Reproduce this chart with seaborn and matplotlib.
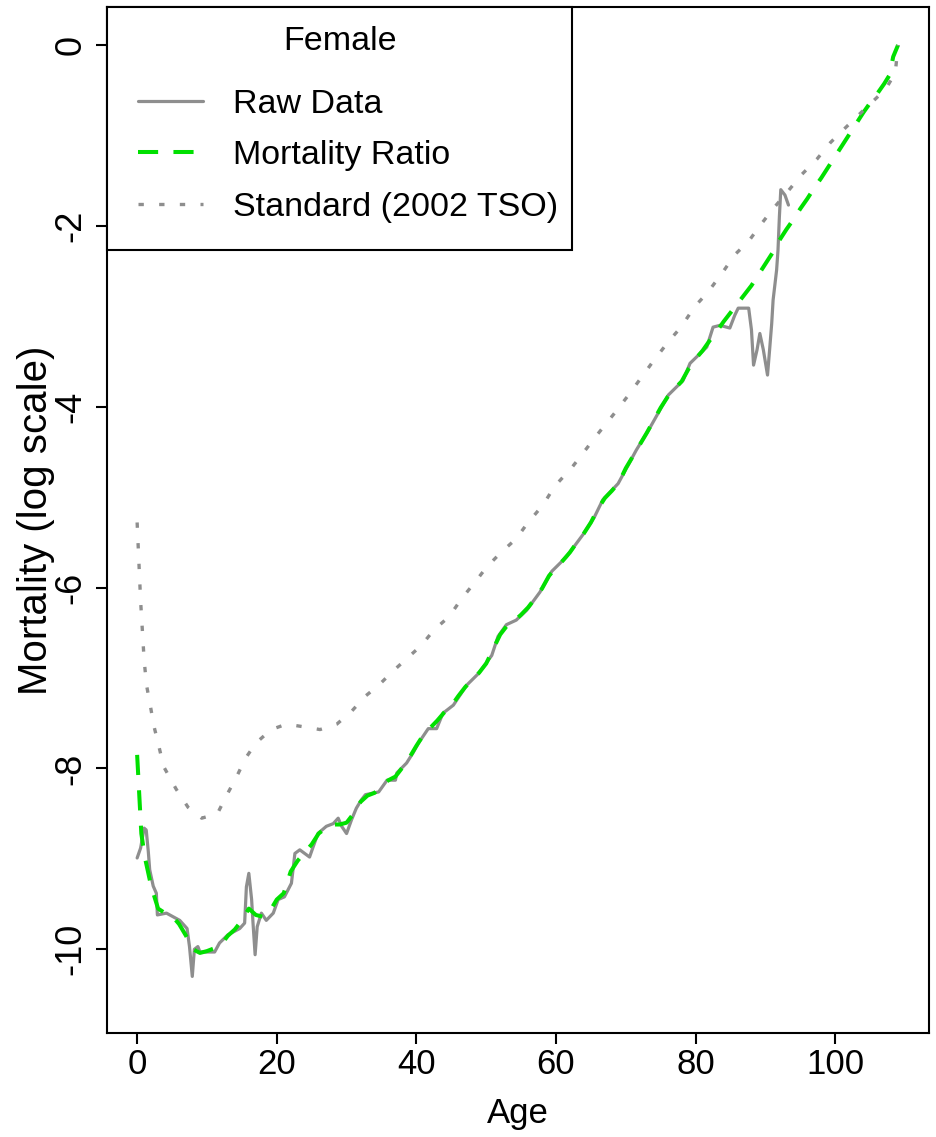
import numpy as np
import pandas as pd
import matplotlib
matplotlib.use("Agg")
import matplotlib.pyplot as plt
import seaborn as sns
from matplotlib import font_manager
from matplotlib.patches import Rectangle

# ---------------- data ----------------
raw_age = [0, 0.5, 1.0, 1.3, 1.6, 1.8, 2.3, 2.75, 2.9, 4.2, 6.1, 7.15, 7.5, 7.9, 8.2,
           8.7, 9.0, 11.1, 11.8, 13.0, 14.7, 15.4, 15.65, 16.0, 16.4, 16.6, 16.9, 17.2,
           17.8, 18.5, 19.5, 20.2, 21.1, 22.1, 22.6, 23.3, 24.0, 24.7, 25.2, 25.9, 27.1,
           28.1, 28.8, 29.3, 30.0, 30.7, 31.4, 32.1, 32.7, 34.6, 35.8, 37.0, 37.2, 38.6,
           39.5, 40.3, 41.7, 42.9, 43.8, 45.3, 47.2, 48.9, 50.8, 51.7, 52.9, 54.3, 55.8,
           57.7, 59.4, 61.5, 64.0, 65.5, 66.7, 68.9, 71.5, 73.4, 76.1, 78.2, 79.2, 81.6,
           82.5, 83.5, 84.9, 85.6, 86.1, 87.6, 88.0, 88.3, 88.8, 89.2, 89.7, 90.3, 90.6,
           90.9, 91.1, 91.6, 91.8, 92.0, 92.2, 92.8, 93.3]
raw_val = [-8.99, -8.88, -8.66, -8.68, -8.92, -9.12, -9.30, -9.38, -9.62, -9.60, -9.68,
           -9.77, -9.97, -10.30, -10.00, -9.97, -10.03, -10.03, -9.93, -9.84, -9.77, -9.71,
           -9.31, -9.16, -9.45, -9.71, -10.06, -9.75, -9.60, -9.68, -9.60, -9.45, -9.42,
           -9.27, -8.94, -8.90, -8.94, -8.98, -8.87, -8.72, -8.64, -8.61, -8.55, -8.64,
           -8.72, -8.57, -8.44, -8.35, -8.29, -8.26, -8.13, -8.13, -8.05, -7.94, -7.83,
           -7.72, -7.56, -7.56, -7.39, -7.30, -7.08, -6.95, -6.75, -6.54, -6.41, -6.36,
           -6.25, -6.05, -5.82, -5.66, -5.40, -5.22, -5.03, -4.85, -4.48, -4.24, -3.87,
           -3.71, -3.52, -3.34, -3.12, -3.10, -3.13, -2.99, -2.91, -2.91, -3.15, -3.54,
           -3.37, -3.19, -3.37, -3.65, -3.37, -3.08, -2.82, -2.49, -2.27, -1.90, -1.60,
           -1.66, -1.77]

ratio_age = [0, 0.6, 1.1, 2, 3, 4, 5, 6, 7, 8, 9, 10, 11, 12, 13, 14, 15, 16, 17, 18, 19,
             20, 21, 22, 23, 24, 25, 26, 27, 28, 29, 30, 31, 32, 33, 34, 35, 36, 37, 38,
             39, 40, 41, 42, 43, 44, 45, 46, 47, 48, 49, 50, 51, 52, 53, 54, 55, 56, 57,
             58, 59, 60, 61, 62, 63, 64, 65, 66, 67, 68, 69, 70, 71, 72, 73, 74, 75, 76,
             77, 78, 79, 80, 81, 82, 83, 84, 85, 86, 87, 88, 89, 90, 91, 92, 93, 94, 95,
             96, 97, 98, 99, 100, 101, 102, 103, 104, 105, 106, 107, 107.8, 108.3, 109]
ratio_val = [-7.85, -8.72, -8.98, -9.30, -9.55, -9.60, -9.63, -9.72, -9.85, -10.00, -10.04,
             -10.02, -9.99, -9.95, -9.85, -9.78, -9.68, -9.55, -9.62, -9.64, -9.58, -9.45,
             -9.38, -9.14, -9.02, -8.93, -8.84, -8.72, -8.66, -8.62, -8.62, -8.60, -8.50,
             -8.37, -8.30, -8.27, -8.20, -8.13, -8.09, -7.99, -7.88, -7.75, -7.63, -7.55,
             -7.47, -7.38, -7.31, -7.20, -7.10, -7.02, -6.94, -6.84, -6.68, -6.52, -6.42,
             -6.37, -6.30, -6.22, -6.12, -6.01, -5.87, -5.78, -5.70, -5.61, -5.50, -5.40,
             -5.28, -5.13, -5.01, -4.93, -4.84, -4.68, -4.55, -4.42, -4.29, -4.15, -4.01,
             -3.89, -3.80, -3.72, -3.58, -3.47, -3.38, -3.27, -3.17, -3.06, -2.96, -2.86,
             -2.76, -2.66, -2.54, -2.42, -2.30, -2.16, -2.04, -1.93, -1.81, -1.70, -1.58,
             -1.47, -1.35, -1.23, -1.11, -0.99, -0.87, -0.75, -0.64, -0.54, -0.43, -0.33,
             -0.13, 0.0]

std_age = [0, 0.5, 1.0, 1.35, 1.9, 2.4, 3.1, 3.8, 5.6, 7.3, 9.25, 11.5, 12.8, 14.2, 15.5,
           17.0, 19.2, 21.4, 23.9, 26.2, 28.6, 30.7, 32.7, 34.6, 36.7, 38.7, 40.7, 42.5,
           44.7, 46.5, 48.4, 50.0, 52.0, 54.3, 55.8, 58.2, 59.8, 62.3, 64.1, 66.0, 68.4,
           70.3, 72.1, 73.8, 76.0, 77.9, 79.9, 81.8, 84.0, 85.6, 87.6, 89.2, 91.0, 93.2,
           95.1, 97.4, 99.3, 101.4, 103.4, 105.3, 107.2, 108.6, 109]
std_val = [-5.28, -6.15, -6.80, -7.08, -7.31, -7.53, -7.75, -7.98, -8.23, -8.43, -8.55,
           -8.50, -8.30, -8.10, -7.89, -7.72, -7.57, -7.51, -7.54, -7.57, -7.51, -7.37,
           -7.20, -7.08, -6.92, -6.78, -6.64, -6.47, -6.32, -6.12, -5.94, -5.78, -5.62,
           -5.46, -5.30, -5.08, -4.88, -4.67, -4.49, -4.30, -4.07, -3.88, -3.69, -3.51,
           -3.29, -3.12, -2.89, -2.73, -2.50, -2.32, -2.17, -2.00, -1.82, -1.62, -1.44,
           -1.26, -1.08, -0.92, -0.77, -0.63, -0.49, -0.31, 0.0]

x_ticks = [0, 20, 40, 60, 80, 100]
y_ticks = [0, -2, -4, -6, -8, -10]
legend_title = "Female"
series_labels = ["Raw Data", "Mortality Ratio", "Standard (2002 TSO)"]
x_label = "Age"
y_label = "Mortality (log scale)"

# ---------------- style ----------------
sns.set_theme(style="white")
names = {f.name for f in font_manager.fontManager.ttflist}
NARROW = "Liberation Sans Narrow" if "Liberation Sans Narrow" in names else "Liberation Sans"
REG = "Liberation Sans"
plt.rcParams['font.family'] = [REG, 'DejaVu Sans']
for k in ["text.color", "axes.labelcolor", "xtick.color", "ytick.color"]:
    plt.rcParams[k] = "black"
hsize = 29 if NARROW == "Liberation Sans Narrow" else 25
lsize = 29 if NARROW == "Liberation Sans Narrow" else 24.5

GRAY = "#8e8e8e"
GREEN = "#00e000"

W, H = 936, 1137
fig = plt.figure(figsize=(W / 100, H / 100), dpi=100)
L, R, T, B = 106.7, 928.5, 6.7, 1033.0
ax = fig.add_axes([L / W, 1 - B / H, (R - L) / W, (B - T) / H])

raw_df = pd.DataFrame({"age": raw_age, "val": raw_val})
ratio_df = pd.DataFrame({"age": ratio_age, "val": ratio_val})
std_df = pd.DataFrame({"age": std_age, "val": std_val})

sns.lineplot(data=raw_df, x="age", y="val", ax=ax, color=GRAY, lw=2.3,
             label=series_labels[0], sort=False, estimator=None, zorder=2)
sns.lineplot(data=ratio_df, x="age", y="val", ax=ax, color=GREEN, lw=2.9,
             linestyle=(0, (5, 3.8)), label=series_labels[1], sort=False,
             estimator=None, zorder=3)
sns.lineplot(data=std_df, x="age", y="val", ax=ax, color=GRAY, lw=2.4,
             linestyle=(0, (1.6, 4.6)), label=series_labels[2], sort=False,
             estimator=None, zorder=4)

ax.set_xlim(-4.36, 113.36)
ax.set_ylim((45 - B) / 90.43, (45 - T) / 90.43)

for s in ax.spines.values():
    s.set_visible(True)
    s.set_color("black")
    s.set_linewidth(1.5)

ax.set_xticks(x_ticks)
ax.set_xticklabels([str(v) for v in x_ticks], fontsize=hsize, family=NARROW)
ax.set_yticks(y_ticks)
ax.set_yticklabels([str(v) for v in y_ticks], fontsize=26, family=REG,
                   rotation=90, va="center")
ax.tick_params(axis="both", direction="out", length=8, width=1.5, colors="black",
               bottom=True, left=True, top=False, right=False)
ax.tick_params(axis="x", pad=3)
ax.tick_params(axis="y", pad=5)

ax.set_xlabel(x_label, fontsize=hsize, family=NARROW, labelpad=11)
ax.set_ylabel(y_label, fontsize=29, family=REG, labelpad=-1)

# legend
handles, labs = ax.get_legend_handles_labels()
if ax.get_legend() is not None:
    ax.get_legend().remove()

frame = Rectangle((L / W, 1 - 250 / H), (572 - L) / W, (250 - T) / H,
                  transform=fig.transFigure, facecolor="white", edgecolor="black",
                  lw=1.5, zorder=5)
fig.add_artist(frame)
fs_px = lsize * 100 / 72
leg = fig.legend(handles, labs, loc="upper left",
                 bbox_to_anchor=(138 / W, 1 - 89 / H), frameon=False,
                 borderpad=0, borderaxespad=0, labelspacing=15.5 / fs_px + 0.14,
                 handlelength=65 / fs_px, handletextpad=30 / fs_px,
                 prop={"family": NARROW, "size": lsize})
leg.set_zorder(10)
fig.text(340 / W, 1 - 42 / H, legend_title, ha="center", va="center",
         fontsize=lsize, family=NARROW, zorder=11)

fig.savefig("out.png", dpi=100)
